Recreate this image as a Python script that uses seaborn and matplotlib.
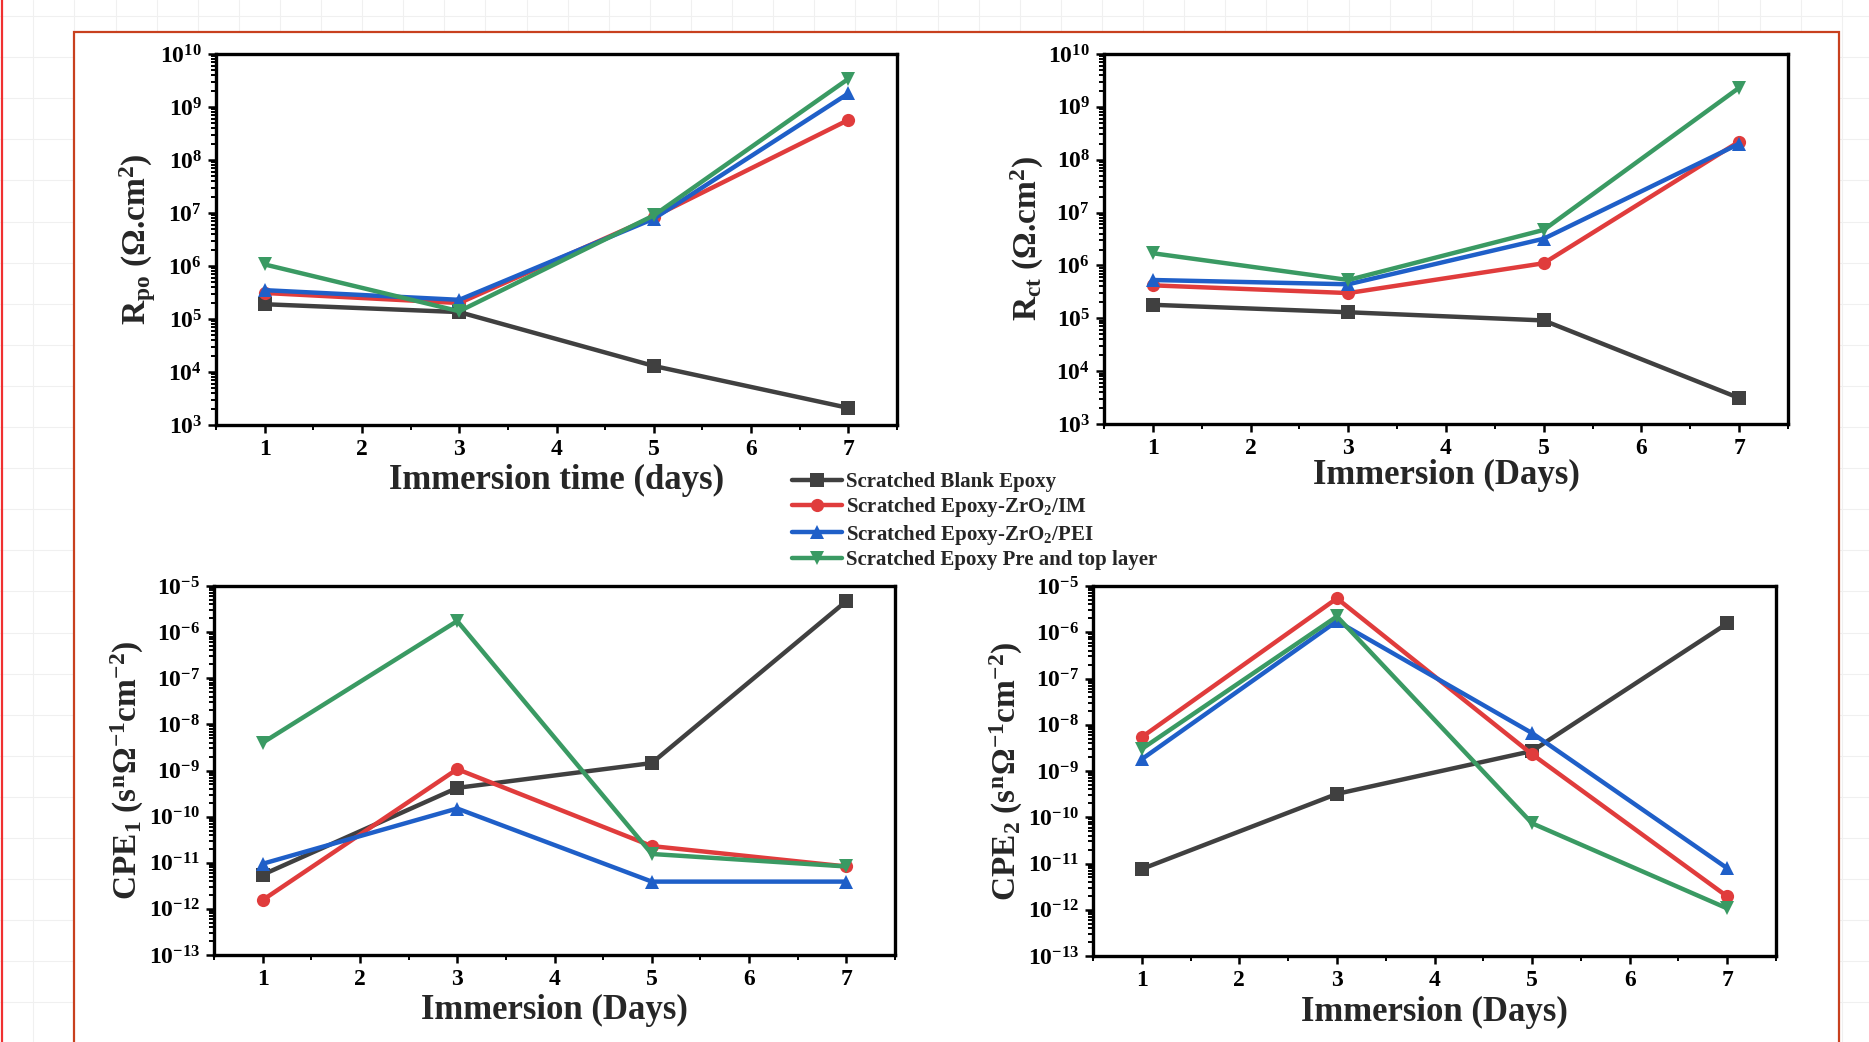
import numpy as np
import pandas as pd
import matplotlib
matplotlib.use("Agg")
import matplotlib.pyplot as plt
import seaborn as sns
from matplotlib.ticker import LogLocator, LogFormatterMathtext, MultipleLocator, NullFormatter
from matplotlib.lines import Line2D
from matplotlib.patches import Rectangle

# ---------------- data ----------------
days = [1, 3, 5, 7]
series_names = ["Scratched Blank Epoxy",
                r"Scratched Epoxy-ZrO$_2$/IM",
                r"Scratched Epoxy-ZrO$_2$/PEI",
                "Scratched Epoxy Pre and top layer"]

rpo_blank = [1.9e5, 1.35e5, 1.3e4, 2.1e3]
rpo_im = [3.1e5, 2.0e5, 8.5e6, 5.7e8]
rpo_pei = [3.5e5, 2.3e5, 7.8e6, 1.8e9]
rpo_pre = [1.07e6, 1.4e5, 9.0e6, 3.4e9]

rct_blank = [1.8e5, 1.3e5, 9.1e4, 3.1e3]
rct_im = [4.2e5, 3.0e5, 1.1e6, 2.2e8]
rct_pei = [5.3e5, 4.4e5, 3.2e6, 2.0e8]
rct_pre = [1.7e6, 5.3e5, 4.7e6, 2.3e9]

cpe1_blank = [5.5e-12, 4.2e-10, 1.45e-9, 4.7e-6]
cpe1_im = [1.55e-12, 1.07e-9, 2.3e-11, 8.3e-12]
cpe1_pei = [9.5e-12, 1.5e-10, 3.9e-12, 3.9e-12]
cpe1_pre = [4.0e-9, 1.74e-6, 1.55e-11, 8.3e-12]

cpe2_blank = [7.6e-12, 3.2e-10, 2.7e-9, 1.55e-6]
cpe2_im = [5.4e-9, 5.4e-6, 2.3e-9, 1.94e-12]
cpe2_pei = [1.8e-9, 1.74e-6, 6.6e-9, 7.9e-12]
cpe2_pre = [3.0e-9, 2.2e-6, 7.4e-11, 1.07e-12]

x_ticks = [1, 2, 3, 4, 5, 6, 7]

# ---------------- style ----------------
sns.set_theme(style="white")
plt.rcParams["font.family"] = ["Liberation Serif", "DejaVu Serif"]
plt.rcParams["font.weight"] = "bold"
plt.rcParams["mathtext.fontset"] = "custom"
plt.rcParams["mathtext.rm"] = "Liberation Serif:bold"
plt.rcParams["mathtext.it"] = "Liberation Serif:bold"
plt.rcParams["mathtext.bf"] = "Liberation Serif:bold"
plt.rcParams["mathtext.default"] = "rm"

colors = ["#404040", "#e03c3c", "#1f5fc8", "#3a9a63"]
markers = ["s", "o", "^", "v"]
palette = dict(zip(series_names, colors))
marker_map = dict(zip(series_names, markers))

W, H = 1869, 1042
fig = plt.figure(figsize=(W / 100, H / 100), dpi=100)
fig.patch.set_facecolor("white")

# faint spreadsheet-like background grid
for gx in np.arange(33.3, W, 41.1):
    fig.add_artist(Line2D([gx / W, gx / W], [0, 1], transform=fig.transFigure,
                          color="#f0f0f0", lw=0.8, zorder=0))
for gy in np.arange(16, H, 41.1):
    fig.add_artist(Line2D([0, 1], [1 - gy / H, 1 - gy / H], transform=fig.transFigure,
                          color="#f0f0f0", lw=0.8, zorder=0))
# red frame
fig.add_artist(Rectangle((74 / W, -0.05), (1839 - 74) / W, (1 - 32 / H) + 0.05,
                         transform=fig.transFigure, facecolor="white",
                         edgecolor="#c8401e", lw=1.6, zorder=0.5))
fig.add_artist(Line2D([1.5 / W, 1.5 / W], [0, 1], transform=fig.transFigure,
                      color="#f03030", lw=1.6, zorder=0.6))


def px_axes(l, t, r, b):
    return fig.add_axes([l / W, 1 - b / H, (r - l) / W, (b - t) / H])


panels = [
    dict(box=(216, 54, 897, 425), data=[rpo_blank, rpo_im, rpo_pei, rpo_pre],
         ylim=(1e3, 1e10), ylabel=r"R$_{\mathrm{po}}$ ($\Omega$.cm$^{2}$)",
         xlabel="Immersion time (days)", xpad=3),
    dict(box=(1104, 54, 1788, 424), data=[rct_blank, rct_im, rct_pei, rct_pre],
         ylim=(1e3, 1e10), ylabel=r"R$_{\mathrm{ct}}$ ($\Omega$.cm$^{2}$)",
         xlabel="Immersion (Days)", xpad=0),
    dict(box=(214, 586, 895, 955), data=[cpe1_blank, cpe1_im, cpe1_pei, cpe1_pre],
         ylim=(1e-13, 1e-5), ylabel=r"CPE$_{1}$ (s$^{\mathrm{n}}\Omega^{-1}$cm$^{-2}$)",
         xlabel="Immersion (Days)", xpad=3),
    dict(box=(1093, 586, 1776, 956), data=[cpe2_blank, cpe2_im, cpe2_pei, cpe2_pre],
         ylim=(1e-13, 1e-5), ylabel=r"CPE$_{2}$ (s$^{\mathrm{n}}\Omega^{-1}$cm$^{-2}$)",
         xlabel="Immersion (Days)", xpad=4),
]

axes = []
for p in panels:
    ax = px_axes(*p["box"])
    ax.set_facecolor("white")
    ax.set_zorder(2)
    rows = []
    for name, vals in zip(series_names, p["data"]):
        for d, v in zip(days, vals):
            rows.append({"day": d, "value": v, "series": name})
    df = pd.DataFrame(rows)
    sns.lineplot(data=df, x="day", y="value", hue="series", style="series",
                 palette=palette, markers=marker_map, dashes=False,
                 hue_order=series_names, style_order=series_names,
                 linewidth=3.2, markersize=9.5, markeredgewidth=0,
                 legend=True, ax=ax)
    ax.set_yscale("log")
    ax.set_ylim(*p["ylim"])
    ax.set_xlim(0.5, 7.5)
    ax.set_xticks(x_ticks)
    ax.xaxis.set_minor_locator(MultipleLocator(0.5))
    ax.xaxis.set_minor_formatter(NullFormatter())
    ax.yaxis.set_major_locator(LogLocator(base=10, numticks=30))
    ax.yaxis.set_major_formatter(LogFormatterMathtext())
    ax.yaxis.set_minor_locator(LogLocator(base=10, subs=np.arange(2, 10), numticks=30))
    ax.yaxis.set_minor_formatter(NullFormatter())
    ax.tick_params(axis="both", which="major", direction="out", length=6, width=1.8,
                   labelsize=17, pad=4, top=False, right=False, bottom=True, left=True,
                   color="black", labelcolor="black")
    ax.tick_params(axis="both", which="minor", direction="out", length=3.5, width=1.4,
                   top=False, right=False, bottom=True, left=True, color="black",
                   labelbottom=False, labelleft=False)
    ax.xaxis.get_offset_text().set_visible(False)
    ax.yaxis.get_offset_text().set_visible(False)
    for s in ax.spines.values():
        s.set_linewidth(2.4)
        s.set_color("black")
    ax.set_xlabel(p["xlabel"], fontsize=25, fontweight="bold", labelpad=p["xpad"])
    ax.set_ylabel(p["ylabel"], fontsize=24, fontweight="bold", labelpad=2)
    for lab in ax.get_xticklabels():
        lab.set_fontweight("bold")
    handles, labels = ax.get_legend_handles_labels()
    ax.get_legend().remove()
    axes.append(ax)

leg = fig.legend(handles, labels, loc="upper left",
                 bbox_to_anchor=(792 / W, 1 - 472 / H), frameon=False,
                 prop={"family": "Liberation Serif", "weight": "bold", "size": 15},
                 handlelength=2.4, handletextpad=0.2, labelspacing=0.16,
                 borderpad=0.0, borderaxespad=0.0)
for h in leg.legend_handles:
    h.set_linewidth(3.2)

fig.savefig("out.png", dpi=100, facecolor="white")
